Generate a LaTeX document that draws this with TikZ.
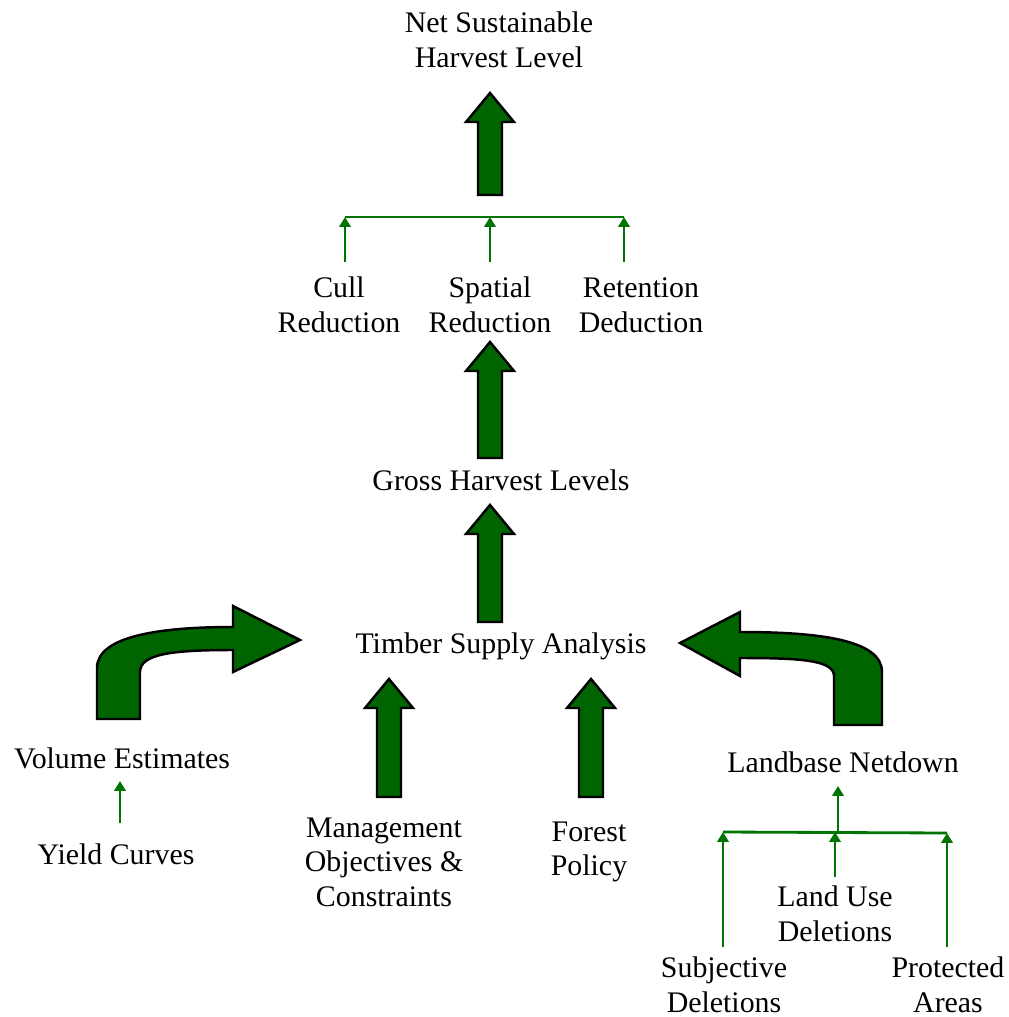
\documentclass[tikz,border=0pt]{standalone}
\usepackage{fontspec}
\setmainfont{Liberation Serif}
\usetikzlibrary{arrows.meta,calc}

\definecolor{arrowfill}{RGB}{0,100,0}
\definecolor{linkgreen}{RGB}{0,115,0}

% block arrow pointing up: tail, tip
\newcommand\bigup[2]{%
  \filldraw[bigarrow] ($(#1)+(-12,0)$) -- ($(#2)+(-12,29)$) -- ($(#2)+(-24,29)$)
    -- (#2) -- ($(#2)+(24,29)$) -- ($(#2)+(12,29)$) -- ($(#1)+(12,0)$) -- cycle;}

\begin{document}
\begin{tikzpicture}[
      x=0.02cm, y=-0.02cm,
      inner sep=0pt,
      font=\fontsize{17}{19.7}\selectfont,
      every node/.style={align=center},
      bigarrow/.style={fill=arrowfill, draw=black, line width=1.4pt, line join=miter},
      link/.style={draw=linkgreen, line width=1.6pt},
      linkarrow/.style={link, -{Triangle[length=5.6pt,width=6.4pt]}}]

    \useasboundingbox (0,0) rectangle (1008,1017);

    % top y=40
    \node (net) at (499,40) {Net Sustainable\\Harvest Level};

    % reductions y=305
    \node (cull) at (339,305) {Cull\\Reduction};
    \node (spatial) at (490,305) {Spatial\\Reduction};
    \node (retention) at (641,305) {Retention\\Deduction};

    % middle
    \node (gross) at (501,480) {Gross Harvest Levels};
    \node (tsa) at (501,646) {Timber Supply Analysis};

    % inputs
    \node (volume) at (122,758) {Volume Estimates};
    \node (yield) at (116,854) {Yield Curves};
    \node (mgmt) at (384,862) {Management\\Objectives \&\\Constraints};
    \node (policy) at (589,852) {Forest\\Policy};
    \node (landbase) at (843,762) {Landbase Netdown};

    % deletions
    \node (landuse) at (835,914) {Land Use\\Deletions};
    \node (subjective) at (724,985) {Subjective\\Deletions};
    \node (protected) at (948,985) {Protected\\Areas};

    % bar above the reductions
    \coordinate (b1l) at (345,217);
    \coordinate (b1m) at (490,217);
    \coordinate (b1r) at (624,217);
    \coordinate (c1) at (345,262);
    \coordinate (c2) at (490,262);
    \coordinate (c3) at (624,262);
    \draw[link] (b1l) -- (b1r);
    \draw[linkarrow] (c1) -- (b1l);
    \draw[linkarrow] (c2) -- (b1m);
    \draw[linkarrow] (c3) -- (b1r);

    % bar above the deletions
    \coordinate (b2l) at (723,832);
    \coordinate (b2m) at (835,832);
    \coordinate (b2r) at (947,833);
    \coordinate (d1) at (723,947);
    \coordinate (d2) at (835,877);
    \coordinate (d3) at (947,947);
    \draw[link] (b2l) -- (b2r);
    \draw[linkarrow] (d1) -- (b2l);
    \draw[linkarrow] (d2) -- (b2m);
    \draw[linkarrow] (d3) -- (b2r);
    \draw[linkarrow] (838,832) -- (838,786);

    % yield curves - volume estimates
    \coordinate (y1) at (120,823);
    \coordinate (v1) at (120,781);
    \draw[linkarrow] (y1) -- (v1);

    % block arrows
    \coordinate (t1) at (490,195); \coordinate (h1) at (490,93);
    \coordinate (t2) at (490,458); \coordinate (h2) at (490,342);
    \coordinate (t3) at (490,622); \coordinate (h3) at (490,505);
    \coordinate (t4) at (389,797); \coordinate (h4) at (389,679);
    \coordinate (t5) at (591,797); \coordinate (h5) at (591,679);
    \bigup{t1}{h1}
    \bigup{t2}{h2}
    \bigup{t3}{h3}
    \bigup{t4}{h4}
    \bigup{t5}{h5}

    % curved arrows into the analysis
    \filldraw[bigarrow] (97,719) -- (97,668) .. controls (97,636) and (160,627) .. (233,627)
      -- (233,606) -- (300,640) -- (233,672) -- (233,650)
      .. controls (172,650) and (140,654) .. (140,672) -- (140,719) -- cycle;
    \filldraw[bigarrow] (882,725) -- (882,672) .. controls (882,640) and (820,632) .. (740,632)
      -- (740,612) -- (680,643) -- (740,676) -- (740,658)
      .. controls (800,658) and (834,660) .. (834,676) -- (834,725) -- cycle;

  \end{tikzpicture}
\end{document}
